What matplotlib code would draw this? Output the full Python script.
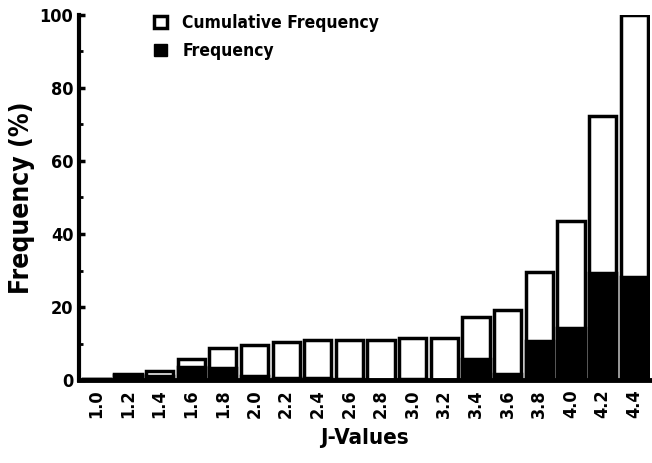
import matplotlib
matplotlib.use("Agg")
import matplotlib.pyplot as plt
from matplotlib import font_manager
from matplotlib.patches import Patch
from matplotlib.ticker import MultipleLocator

# J-value bins and frequencies (%)
j_values = ["1.0", "1.2", "1.4", "1.6", "1.8", "2.0", "2.2", "2.4", "2.6",
            "2.8", "3.0", "3.2", "3.4", "3.6", "3.8", "4.0", "4.2", "4.4"]
cumulative = [0.3, 1.6, 2.4, 5.9, 8.8, 9.6, 10.4, 11.0, 11.0,
              11.1, 11.6, 11.6, 17.3, 19.2, 29.5, 43.5, 72.3, 100.0]
frequency = [0.3, 1.3, 1.0, 3.6, 3.2, 1.0, 0.6, 0.5, 0.2,
             0.1, 0.4, 0.1, 5.9, 1.8, 10.8, 14.4, 29.2, 28.1]

# narrow bold look, use a condensed face if there is one
names = {f.name for f in font_manager.fontManager.ttflist}
condensed = [f for f in font_manager.fontManager.ttflist
             if f.name == "DejaVu Sans" and "ondensed" in str(f.stretch) + f.fname]
if "Liberation Sans Narrow" in names:
    plt.rcParams["font.family"] = ["Liberation Sans Narrow", "DejaVu Sans"]
    scale = 1.15
elif condensed:
    plt.rcParams["font.family"] = ["DejaVu Sans"]
    plt.rcParams["font.stretch"] = "condensed"
    scale = 1.0
else:
    plt.rcParams["font.family"] = ["Liberation Sans", "DejaVu Sans"]
    scale = 1.0
plt.rcParams["font.weight"] = "bold"

fig = plt.figure(figsize=(6.52, 4.63), dpi=100)
ax = fig.add_axes([0.121, 0.179, 0.876, 0.789])

x = range(len(j_values))
ax.bar(x, cumulative, width=0.86, color="white", edgecolor="black", linewidth=2.5)
ax.bar(x, frequency, width=0.86, color="black", edgecolor="black", linewidth=2.5)

ax.set_xlim(-0.55, 17.5)
ax.set_ylim(0, 100)
ax.set_xticks(list(x))
ax.set_xticklabels(j_values, rotation=90, fontsize=13 * scale, fontweight="bold")
ax.yaxis.set_major_locator(MultipleLocator(20))
ax.yaxis.set_minor_locator(MultipleLocator(10))
ax.tick_params(axis="y", which="major", direction="in", length=4, width=2.5,
               labelsize=13 * scale, pad=4)
ax.tick_params(axis="y", which="minor", direction="in", length=3, width=2)
ax.tick_params(axis="x", length=0, pad=7)
for lab in ax.get_yticklabels():
    lab.set_fontweight("bold")

for side in ["top", "right"]:
    ax.spines[side].set_visible(False)
ax.spines["left"].set_linewidth(3)
ax.spines["bottom"].set_linewidth(3.5)

ax.set_xlabel("J-Values", fontsize=16 * scale, fontweight="bold", labelpad=7)
ax.set_ylabel("Frequency (%)", fontsize=19 * scale, fontweight="bold", labelpad=3)

handles = [Patch(facecolor="white", edgecolor="black", linewidth=2.5, label="Cumulative Frequency"),
           Patch(facecolor="black", edgecolor="black", label="Frequency")]
ax.legend(handles=handles, loc="upper left", bbox_to_anchor=(0.105, 1.045), frameon=False,
          handlelength=0.7, handleheight=0.7, handletextpad=0.9,
          labelspacing=0.6, prop={"weight": "bold", "size": 12.5 * scale})

plt.savefig("out.png", dpi=100)
